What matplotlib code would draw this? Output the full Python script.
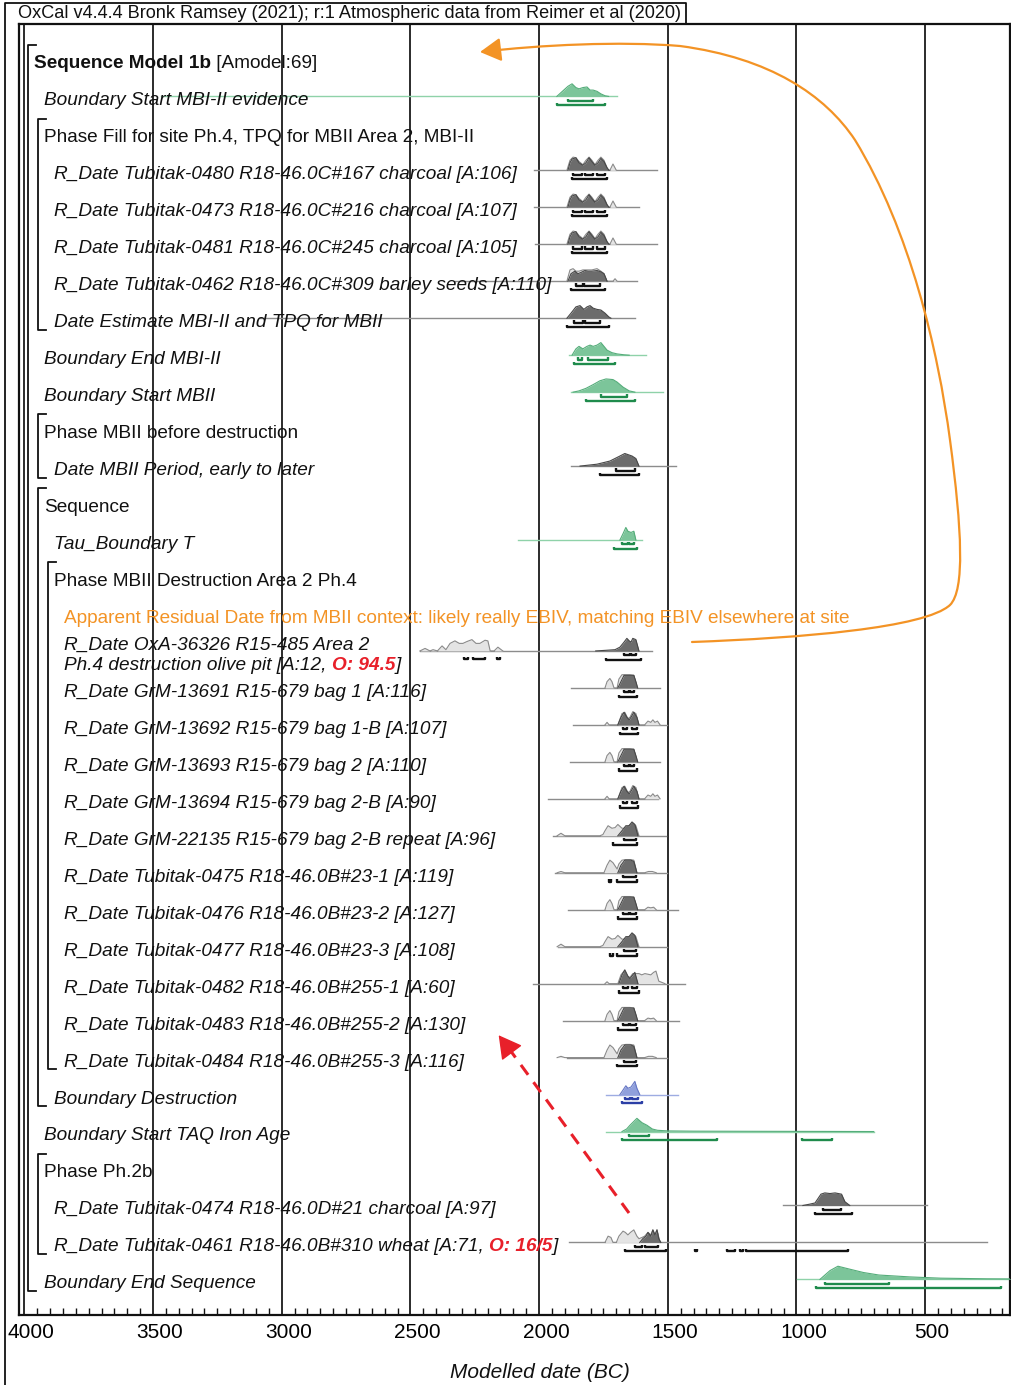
import matplotlib
matplotlib.use('Agg')
import matplotlib.pyplot as plt
import matplotlib.transforms as mtransforms
from matplotlib import font_manager
from matplotlib.patches import FancyArrowPatch
from matplotlib.path import Path

# ---------------- data (years BC) ----------------
TITLE = "OxCal v4.4.4 Bronk Ramsey (2021); r:1 Atmospheric data from Reimer et al (2020)"
XLABEL = "Modelled date (BC)"
MAJOR_TICKS = [4000, 3500, 3000, 2500, 2000, 1500, 1000, 500]

ROW_LABELS = [
    "Sequence Model 1b",
    "Boundary Start MBI-II evidence",
    "Phase Fill for site Ph.4, TPQ for MBII Area 2, MBI-II",
    "R_Date Tubitak-0480 R18-46.0C#167 charcoal [A:106]",
    "R_Date Tubitak-0473 R18-46.0C#216 charcoal [A:107]",
    "R_Date Tubitak-0481 R18-46.0C#245 charcoal [A:105]",
    "R_Date Tubitak-0462 R18-46.0C#309 barley seeds [A:110]",
    "Date Estimate MBI-II and TPQ for MBII",
    "Boundary End MBI-II",
    "Boundary Start MBII",
    "Phase MBII before destruction",
    "Date MBII Period, early to later",
    "Sequence",
    "Tau_Boundary T",
    "Phase MBII Destruction Area 2 Ph.4",
    "Apparent Residual Date from MBII context: likely really EBIV, matching EBIV elsewhere at site",
    "R_Date OxA-36326 R15-485 Area 2",
    "R_Date GrM-13691 R15-679 bag 1 [A:116]",
    "R_Date GrM-13692 R15-679 bag 1-B [A:107]",
    "R_Date GrM-13693 R15-679 bag 2 [A:110]",
    "R_Date GrM-13694 R15-679 bag 2-B [A:90]",
    "R_Date GrM-22135 R15-679 bag 2-B repeat [A:96]",
    "R_Date Tubitak-0475 R18-46.0B#23-1 [A:119]",
    "R_Date Tubitak-0476 R18-46.0B#23-2 [A:127]",
    "R_Date Tubitak-0477 R18-46.0B#23-3 [A:108]",
    "R_Date Tubitak-0482 R18-46.0B#255-1 [A:60]",
    "R_Date Tubitak-0483 R18-46.0B#255-2 [A:130]",
    "R_Date Tubitak-0484 R18-46.0B#255-3 [A:116]",
    "Boundary Destruction",
    "Boundary Start TAQ Iron Age",
    "Phase Ph.2b",
    "R_Date Tubitak-0474 R18-46.0D#21 charcoal [A:97]",
    "R_Date Tubitak-0461 R18-46.0B#310 wheat [A:71, ",
    "Boundary End Sequence",
]
# nesting depth and element kind of each row
ROW_DEPTH = [0, 1, 1, 2, 2, 2, 2, 2, 1, 1, 1, 2, 1, 2, 2, 3, 3,
             3, 3, 3, 3, 3, 3, 3, 3, 3, 3, 3, 2, 1, 1, 2, 2, 1]
ROW_KIND = ['seq', 'bnd', 'grp', 'date', 'date', 'date', 'date', 'date',
            'bnd', 'bnd', 'grp', 'date', 'grp', 'bnd', 'grp', 'note', 'date',
            'date', 'date', 'date', 'date', 'date', 'date', 'date', 'date',
            'date', 'date', 'date', 'bnd', 'bnd', 'grp', 'date', 'date', 'bnd']
SEQ_SUFFIX = " [Amodel:69]"
OXA_LINE2 = "Ph.4 destruction olive pit [A:12, "
OUTLIER_TXT = {16: "O: 94.5", 32: "O: 16/5"}

# grouping brackets: (first row, last row, depth)
BRACKETS = [(0, 33, 0), (2, 7, 1), (10, 11, 1), (12, 28, 1), (14, 27, 2), (30, 32, 1)]

# colour of the distribution per row
DIST_COLOR = {1: 'green', 8: 'green', 9: 'green', 13: 'green', 29: 'green', 33: 'green',
              28: 'blue'}

# extent of each row's baseline
SPAN = {1: (3470, 1698), 3: (2020, 1542), 4: (2020, 1612), 5: (2016, 1542), 6: (2327, 1620),
        7: (3084, 1628), 8: (1884, 1585), 9: (1876, 1519), 11: (1876, 1469), 13: (2082, 1601),
        16: (2463, 1562), 17: (1876, 1531), 18: (1868, 1503), 19: (1880, 1531), 20: (1966, 1538),
        21: (1946, 1507), 22: (1938, 1503), 23: (1888, 1461), 24: (1927, 1503), 25: (2024, 1434),
        26: (1907, 1457), 27: (1892, 1503), 28: (1740, 1461), 29: (1740, 700), 31: (1052, 494),
        32: (1884, 261), 33: (998, 165)}

# unmodelled (prior) likelihoods: (year, relative height 0-10)
PRIOR_A = [(1744, 0), (1736, 5), (1725, 7.5), (1717, 5), (1709, 0), (1697, 0), (1690, 7),
           (1678, 10.5), (1663, 10.5), (1647, 10.5), (1632, 10), (1620, 0)]
PRIOR_B = [(1744, 0), (1736, 2), (1728, 0), (1694, 0), (1678, 9), (1667, 10), (1655, 5),
           (1647, 6), (1636, 10.5), (1624, 9), (1612, 0), (1590, 0), (1577, 3), (1566, 2),
           (1558, 4), (1550, 2), (1540, 3), (1530, 0)]
PRIOR_C = [(1930, 0), (1915, 2), (1900, 0), (1764, 0), (1752, 1), (1744, 4), (1732, 8),
           (1717, 6), (1705, 6.5), (1694, 9), (1678, 6), (1667, 6), (1651, 8), (1636, 10),
           (1624, 8), (1612, 0)]
PRIOR_D = [(1930, 0), (1915, 1), (1900, 0), (1748, 0), (1736, 6), (1725, 10), (1713, 8),
           (1697, 3), (1690, 7), (1678, 10), (1663, 10.5), (1647, 10.5), (1632, 10), (1620, 0),
           (1590, 0), (1575, 1), (1560, 1), (1545, 0)]
PRIOR_E = [(1744, 0), (1736, 5), (1725, 8), (1717, 5), (1709, 0), (1697, 0), (1690, 7),
           (1678, 10.5), (1663, 10.5), (1647, 10.5), (1632, 10), (1620, 0), (1590, 0),
           (1577, 2), (1566, 1.5), (1555, 2), (1545, 0)]
PRIOR_0480 = [(1892, 0), (1880, 8), (1868, 10.5), (1857, 10), (1845, 7), (1830, 4.5),
              (1818, 8), (1806, 10.5), (1795, 8), (1783, 4.5), (1771, 8), (1760, 10.5),
              (1748, 8), (1732, 0), (1725, 0), (1713, 5), (1700, 0)]
PRIOR = {
    3: PRIOR_0480, 4: PRIOR_0480, 5: PRIOR_0480,
    6: [(1892, 0), (1880, 9), (1868, 10), (1857, 8), (1845, 8), (1830, 9), (1814, 9),
        (1795, 9), (1775, 10), (1760, 8), (1748, 6), (1736, 0), (1713, 0), (1705, 2), (1697, 0)],
    16: [(2463, 0), (2443, 2), (2424, 0), (2412, 1), (2395, 0), (2377, 4), (2362, 1),
         (2346, 6), (2327, 8), (2310, 6), (2296, 6), (2280, 7.5), (2261, 9), (2245, 6),
         (2230, 6), (2210, 8.5), (2199, 8), (2190, 0), (2175, 0), (2160, 3), (2141, 0)],
    17: PRIOR_A, 19: PRIOR_A, 18: PRIOR_B, 20: PRIOR_B, 21: PRIOR_C, 24: PRIOR_C,
    22: PRIOR_D, 27: PRIOR_D, 23: PRIOR_E, 26: PRIOR_E,
    25: [(1744, 0), (1736, 1.5), (1728, 0), (1694, 0), (1682, 7), (1670, 10), (1659, 6),
         (1647, 5), (1636, 8), (1624, 8), (1612, 8), (1601, 7), (1589, 8), (1577, 7.5),
         (1566, 7), (1555, 9), (1546, 10), (1535, 2), (1523, 1), (1511, 0)],
    32: [(1744, 0), (1732, 5), (1721, 4), (1713, 0), (1700, 0), (1690, 5), (1674, 9),
         (1665, 8), (1655, 6), (1645, 8), (1632, 10), (1620, 5), (1612, 3), (1600, 4),
         (1590, 5), (1577, 8), (1566, 6), (1558, 10), (1550, 6), (1542, 10), (1530, 0)],
}

# modelled (posterior) distributions
POST_A = [(1694, 0), (1682, 5), (1670, 10), (1655, 10), (1643, 10), (1632, 10), (1624, 5),
          (1617, 0)]
POST_B = [(1694, 0), (1682, 6), (1670, 10), (1659, 6), (1650, 4), (1643, 6), (1632, 10),
          (1620, 6), (1612, 0)]
POST_C = [(1694, 0), (1678, 4), (1663, 8), (1651, 8), (1639, 11), (1628, 9), (1616, 0)]
POST_D = [(1694, 0), (1682, 6), (1667, 10), (1655, 10), (1643, 10), (1632, 9), (1620, 0)]
POST_0480 = [(1888, 0), (1880, 6), (1872, 9), (1857, 10), (1845, 6), (1830, 4), (1818, 6),
             (1806, 10), (1795, 7), (1783, 4), (1771, 6), (1760, 9.5), (1748, 7), (1736, 2),
             (1728, 0)]
POST = {
    1: [(1931, 0), (1915, 3), (1888, 8), (1872, 10), (1857, 7), (1845, 6), (1830, 7),
        (1814, 7.5), (1802, 5), (1790, 5), (1775, 4), (1760, 2), (1744, 0.5), (1730, 0)],
    3: POST_0480, 4: POST_0480, 5: POST_0480,
    6: [(1888, 0), (1876, 6), (1861, 8), (1849, 6), (1837, 7), (1822, 8.5), (1810, 8),
        (1795, 8), (1775, 8.5), (1760, 7.5), (1748, 6), (1736, 0)],
    7: [(1892, 0), (1876, 4), (1857, 9), (1841, 10), (1826, 7), (1814, 9), (1802, 10),
        (1790, 8), (1775, 7), (1760, 6.5), (1744, 4), (1729, 1), (1721, 0)],
    8: [(1872, 0), (1857, 5), (1845, 7), (1830, 5), (1814, 7), (1802, 8), (1790, 7),
        (1775, 8), (1760, 10), (1748, 7), (1736, 4), (1717, 2), (1697, 1), (1670, 0.3), (1650, 0)],
    9: [(1868, 0), (1845, 1), (1818, 3), (1790, 6), (1764, 9), (1740, 10.5), (1713, 10),
        (1697, 8), (1674, 4), (1650, 1), (1628, 0)],
    11: [(1841, 0), (1775, 1.5), (1725, 4), (1686, 8), (1667, 10), (1639, 8), (1624, 6),
         (1612, 0)],
    13: [(1686, 0), (1674, 5), (1663, 10), (1655, 7), (1643, 6), (1632, 7), (1624, 0)],
    16: [(1780, 0), (1740, 0.5), (1705, 1), (1686, 3), (1670, 7), (1659, 10), (1650, 8),
         (1643, 7), (1636, 10), (1624, 9), (1612, 0)],
    17: POST_A, 19: POST_A, 23: POST_A, 26: POST_A,
    18: POST_B, 20: POST_B, 21: POST_C, 24: POST_C, 22: POST_D, 27: POST_D,
    25: [(1690, 0), (1678, 7), (1667, 11), (1655, 6), (1647, 4), (1636, 7), (1628, 9),
         (1616, 0)],
    28: [(1686, 0), (1676, 3), (1663, 7), (1655, 5), (1643, 6), (1628, 10.5), (1620, 5),
         (1609, 0)],
    29: [(1678, 0), (1660, 2), (1647, 5), (1620, 10.5), (1600, 7), (1581, 5), (1560, 2),
         (1540, 1), (1500, 0.5), (1400, 0.3), (1200, 0.2), (900, 0.1), (700, 0)],
    31: [(975, 0), (950, 1), (928, 2), (905, 9), (890, 10), (870, 9.5), (850, 10), (825, 9),
         (812, 3), (793, 0)],
    32: [(1609, 0), (1597, 3), (1585, 5), (1577, 8), (1566, 5), (1558, 10), (1550, 6),
         (1542, 10), (1535, 3), (1527, 0)],
    33: [(909, 0), (870, 7), (839, 10.5), (800, 8.5), (740, 5.5), (680, 3.5), (560, 2),
         (440, 1), (260, 0.5), (165, 0.4)],
}

# 68.2% and 95.4% highest posterior density ranges
R68_0480 = [(1868, 1833), (1822, 1791), (1775, 1744)]
R68 = {1: [(1888, 1790)], 3: R68_0480, 4: R68_0480, 5: R68_0480,
       6: [(1857, 1830), (1826, 1764)], 7: [(1865, 1830), (1822, 1764)],
       8: [(1849, 1833), (1810, 1732)], 9: [(1760, 1659)], 11: [(1701, 1628)],
       13: [(1678, 1655), (1651, 1632)], 16: [(1670, 1647), (1643, 1624)],
       17: [(1670, 1651), (1647, 1632)], 18: [(1674, 1659), (1639, 1620)],
       19: [(1670, 1651), (1647, 1632)], 20: [(1674, 1659), (1639, 1620)],
       21: [(1670, 1624)], 22: [(1674, 1624)], 23: [(1674, 1651), (1647, 1624)],
       24: [(1670, 1624)], 25: [(1674, 1655), (1639, 1620)], 26: [(1674, 1651), (1647, 1624)],
       27: [(1670, 1624)], 28: [(1667, 1647), (1639, 1616)], 29: [(1651, 1573)],
       31: [(898, 828)], 32: [(1628, 1601), (1589, 1538)], 33: [(890, 641)]}
R95 = {1: [(1931, 1744)], 3: [(1872, 1736)], 4: [(1872, 1736)], 5: [(1872, 1736)],
       6: [(1876, 1744)], 7: [(1892, 1729)], 8: [(1865, 1705)], 9: [(1818, 1628)],
       11: [(1764, 1612)], 13: [(1709, 1620)], 16: [(1740, 1605)], 17: [(1690, 1620)],
       18: [(1686, 1616)], 19: [(1690, 1620)], 20: [(1686, 1616)], 21: [(1713, 1620)],
       22: [(1697, 1620), (1729, 1721)], 23: [(1694, 1620)], 24: [(1697, 1620), (1725, 1713)],
       25: [(1690, 1612)], 26: [(1694, 1620)], 27: [(1697, 1620)], 28: [(1678, 1601)],
       29: [(1678, 1309), (979, 863)], 31: [(928, 785)],
       32: [(1667, 1507), (1394, 1386), (1270, 1239), (1220, 1208), (1196, 800)],
       33: [(925, 207)]}
# unmodelled 95.4% range of the residual OxA date
R_PRIOR = {16: [(2290, 2278), (2257, 2210), (2162, 2150)]}

# ---------------- layout ----------------
W, H = 1012, 1385
L_PX, R_PX, T_PX, B_PX = 19, 1010, 24, 1315
PX_PER_YEAR = 128.7 / 500
X4000_PX = 24.3
ROW0_PX, ROW_PX = 62.0, 36.97
BASE = -0.07          # baseline offset of a distribution from the row centre
HSCALE = 0.034        # rows per unit of relative height
TEXT_DY = 0.05
INDENT_PX = [34, 44, 54, 64]
BRACKET_PX = [28, 38, 48]

names = {f.name for f in font_manager.fontManager.ttflist}
NARROW = 'Liberation Sans Narrow' in names
SANS = ['Liberation Sans', 'DejaVu Sans']
NARROW_FAM = ['Liberation Sans Narrow', 'Liberation Sans'] if NARROW else SANS
FS = 13.7
TITLE_FS = 13.1
TICK_FS = 18 if NARROW else 15

COLORS = {
    'gray': dict(face='#6c6c6c', edge='#474747', base='#8c8c8c', bar='#111111'),
    'green': dict(face='#7cc59a', edge='#55ad7a', base='#8fd2a9', bar='#1f8b4c'),
    'blue': dict(face='#90a0dc', edge='#6677c4', base='#9eace2', bar='#2c3fa6'),
}

fig = plt.figure(figsize=(W / 100, H / 100), dpi=100)
ax = fig.add_axes([L_PX / W, 1 - B_PX / H, (R_PX - L_PX) / W, (B_PX - T_PX) / H])
ax.set_xlim(4000 + (X4000_PX - L_PX) / PX_PER_YEAR, 4000 - (R_PX - X4000_PX) / PX_PER_YEAR)
ax.set_ylim((B_PX - ROW0_PX) / ROW_PX, (T_PX - ROW0_PX) / ROW_PX)
for s in ax.spines.values():
    s.set_linewidth(1.6)
    s.set_color('#111111')
ax.set_yticks([])
ax.set_xticks(MAJOR_TICKS)
ax.set_xticks(range(4000, 150, -50), minor=True)
ax.tick_params(axis='x', which='major', length=0, pad=6, labelsize=TICK_FS)
ax.tick_params(axis='x', which='minor', direction='in', length=5, width=1, color='#111111')
shift = mtransforms.ScaledTranslation(7 / 100, 0, fig.dpi_scale_trans)
for lab in ax.get_xticklabels():
    lab.set_family(NARROW_FAM)
    lab.set_transform(lab.get_transform() + shift)
for x in MAJOR_TICKS:
    ax.axvline(x, color='#1a1a1a', lw=1.3, zorder=1)

# x in figure pixels, y in rows
tr = mtransforms.blended_transform_factory(
    mtransforms.Affine2D().scale(1 / W, 1) + fig.transFigure, ax.transData)

# ---------------- distributions ----------------
def draw_curve(row, pts, face, edge, z):
    xs = [p[0] for p in pts]
    ys = [row + BASE - p[1] * HSCALE for p in pts]
    ax.fill_between(xs, row + BASE, ys, color=face, lw=0, zorder=z)
    ax.plot(xs, ys, color=edge, lw=0.8, zorder=z + 0.1)


def draw_ranges(row, ranges, dy, color):
    y = row + BASE + dy
    for a, b in ranges:
        ax.plot([a, a, b, b], [y - 0.06, y, y, y - 0.06], color=color, lw=1.7,
                solid_capstyle='butt', zorder=5)


for row, (a, b) in SPAN.items():
    c = COLORS[DIST_COLOR.get(row, 'gray')]
    ax.plot([a, b], [row + BASE] * 2, color=c['base'], lw=1.0, zorder=2)
for row, pts in PRIOR.items():
    draw_curve(row, pts, '#e4e4e4', '#8a8a8a', 3)
for row, pts in POST.items():
    c = COLORS[DIST_COLOR.get(row, 'gray')]
    draw_curve(row, pts, c['face'], c['edge'], 4)
for row, rr in R68.items():
    draw_ranges(row, rr, 0.12, COLORS[DIST_COLOR.get(row, 'gray')]['bar'])
for row, rr in R95.items():
    draw_ranges(row, rr, 0.24, COLORS[DIST_COLOR.get(row, 'gray')]['bar'])
for row, rr in R_PRIOR.items():
    draw_ranges(row, rr, 0.22, '#111111')

# ---------------- labels ----------------
ORANGE = '#f39325'
RED = '#e8202a'
for row, (txt, depth, kind) in enumerate(zip(ROW_LABELS, ROW_DEPTH, ROW_KIND)):
    x = INDENT_PX[depth]
    style = 'italic' if kind in ('bnd', 'date') else 'normal'
    weight = 'bold' if kind == 'seq' else 'normal'
    color = ORANGE if kind == 'note' else '#111111'
    y = row + TEXT_DY - (0.27 if row == 16 else 0)
    t = ax.text(x, y, txt, transform=tr, ha='left', va='center', fontsize=FS,
                family=SANS, style=style, weight=weight, color=color, zorder=6)
    if kind == 'seq':
        ax.annotate(SEQ_SUFFIX, xy=(1, 0), xycoords=t, ha='left', va='bottom',
                    fontsize=FS, family=SANS, color='#111111')
    if row == 16:
        t = ax.text(x, row + TEXT_DY + 0.27, OXA_LINE2, transform=tr, ha='left', va='center',
                    fontsize=FS, family=SANS, style='italic', color='#111111', zorder=6)
    if row in OUTLIER_TXT:
        t2 = ax.annotate(OUTLIER_TXT[row], xy=(1, 0), xycoords=t, ha='left', va='bottom',
                         fontsize=FS, family=SANS, style='italic', weight='bold', color=RED)
        ax.annotate("]", xy=(1, 0), xycoords=t2, ha='left', va='bottom',
                    fontsize=FS, family=SANS, style='italic', color='#111111')

# grouping brackets
for r0, r1, depth in BRACKETS:
    x = BRACKET_PX[depth]
    y0, y1 = r0 - 0.47, r1 + 0.25
    ax.plot([x + 8, x, x, x + 8], [y0, y0, y1, y1], transform=tr, color='#111111',
            lw=1.3, clip_on=False, zorder=6)

# title box and outer border
fig.add_artist(plt.Line2D([5 / W, 5 / W, 686 / W, 686 / W],
                          [0, 1 - 3 / H, 1 - 3 / H, 1 - T_PX / H],
                          color='#111111', lw=1.3))
fig.text(18 / W, 1 - 14 / H, TITLE, ha='left', va='center', fontsize=TITLE_FS,
         family=SANS, color='#111111')
fig.text(540 / W, 1 - 1373 / H, XLABEL, ha='center', va='center', fontsize=TICK_FS,
         family=NARROW_FAM, style='italic', color='#111111')

# ---------------- annotation arrows ----------------
def fpt(x, y):
    return (x / W, 1 - y / H)


curve = [(692, 642),
         (800, 638), (925, 628), (950, 605),
         (965, 590), (962, 530), (950, 440),
         (938, 350), (910, 230), (855, 140),
         (825, 95), (770, 58), (680, 46),
         (620, 41), (540, 45), (480, 52)]
codes = [Path.MOVETO] + [Path.CURVE4] * (len(curve) - 1)
orange_path = Path([fpt(*p) for p in curve], codes)
fig.add_artist(FancyArrowPatch(path=orange_path, transform=fig.transFigure,
                               arrowstyle='-|>,head_length=8,head_width=4.5',
                               mutation_scale=1.6, color=ORANGE, lw=1.6))

fig.add_artist(plt.Line2D([629 / W, 510 / W], [1 - 1213 / H, 1 - 1050 / H],
                          color=RED, lw=2.2, ls=(0, (4, 3))))
fig.add_artist(FancyArrowPatch(fpt(512, 1053), fpt(497, 1033), transform=fig.transFigure,
                               arrowstyle='-|>,head_length=9,head_width=5',
                               mutation_scale=1.6, color=RED, lw=1))

fig.savefig('out.png', dpi=100, facecolor='white')
